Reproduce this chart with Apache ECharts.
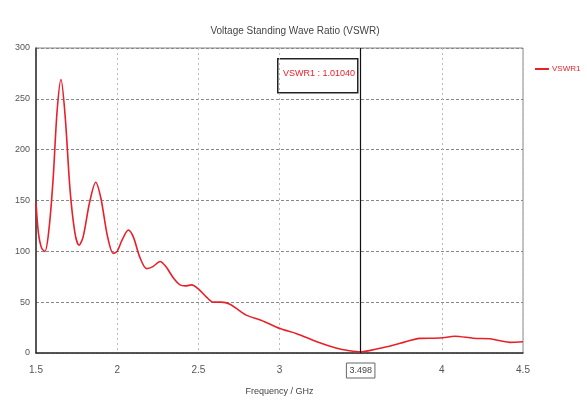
<!DOCTYPE html>
<html><head><meta charset="utf-8">
<script src="https://cdn.jsdelivr.net/npm/echarts@6/dist/echarts.min.js"></script>
<style>html,body{margin:0;padding:0;background:#fff}#c{width:587px;height:407px}</style>
</head><body><div id="c"></div>
<script>
const freq = [1.5, 1.515, 1.535, 1.555, 1.58, 1.605, 1.63, 1.654, 1.68, 1.71, 1.74, 1.765, 1.79, 1.83, 1.868, 1.9, 1.94, 1.976, 2.0, 2.03, 2.069, 2.1, 2.14, 2.182, 2.22, 2.264, 2.3, 2.35, 2.387, 2.42, 2.459, 2.5, 2.55, 2.592, 2.64, 2.695, 2.75, 2.798, 2.89, 3.003, 3.106, 3.23, 3.353, 3.43, 3.498, 3.56, 3.62, 3.743, 3.866, 3.99, 4.08, 4.194, 4.297, 4.36, 4.42, 4.5];
const vswr = [148, 118, 103, 100, 122, 170, 238, 269, 232, 160, 118, 106, 114, 148, 168, 152, 115, 98, 100, 111, 121, 114, 94, 83, 85, 90, 85, 73, 67, 66, 67, 63, 55, 50, 50, 48, 42, 37, 32, 24, 19, 11, 4.6, 2.2, 1.0, 2.6, 4.6, 9.5, 14.4, 14.7, 16.5, 14.5, 14, 12, 10.5, 11];
const xTicks = [1.5, 2, 2.5, 3, 4, 4.5];
const markerFreq = 3.498;
const markerText = 'VSWR1 : 1.01040';

const chart = echarts.init(document.getElementById('c'));
chart.setOption({
  animation: false,
  title: { text: 'Voltage Standing Wave Ratio (VSWR)', left: 290, textAlign: 'center', top: 21,
    textStyle: { fontSize: 10, fontWeight: 'normal', color: '#444', fontFamily: 'Liberation Sans' } },
  legend: { data: ['VSWR1'], left: 530, top: 60, itemWidth: 14, itemHeight: 2, itemGap: 4,
    icon: 'rect', textStyle: { color: '#e8202a', fontSize: 8, padding: [0, 0, 0, -2], fontFamily: 'Liberation Sans' } },
  grid: { left: 36, right: 64, top: 48, bottom: 54, show: true, borderColor: '#888', borderWidth: 1 },
  xAxis: { type: 'value', min: 1.5, max: 4.5, interval: 0.5,
    name: 'Frequency / GHz', nameLocation: 'middle', nameGap: 34,
    nameTextStyle: { fontSize: 9, color: '#444', fontFamily: 'Liberation Sans' },
    axisLine: { lineStyle: { color: '#333', width: 1.5 } },
    axisTick: { show: false },
    axisLabel: { fontSize: 10, color: '#555', margin: 12, fontFamily: 'Liberation Sans',
      formatter: v => (xTicks.indexOf(Math.round(v*10)/10) >= 0 && Math.abs(v - 3.5) > 0.01) ? String(v) : '' },
    splitLine: { show: true, lineStyle: { color: '#bbb', type: [2, 3] } } },
  yAxis: { type: 'value', min: 0, max: 300, interval: 50,
    axisLine: { show: true, lineStyle: { color: '#333', width: 1.5 } },
    axisTick: { show: false },
    axisLabel: { fontSize: 9, color: '#555', margin: 6, fontFamily: 'Liberation Sans' },
    splitLine: { show: true, lineStyle: { color: '#888', type: [3, 2] } } },
  series: [{
    name: 'VSWR1', type: 'line', smooth: 0.3, symbol: 'none',
    data: freq.map((f, i) => [f, vswr[i]]),
    lineStyle: { color: '#e8202a', width: 1.6 }, itemStyle: { color: '#e8202a' },
    markLine: { symbol: 'none', silent: true,
      lineStyle: { color: '#111', type: 'solid', width: 1.2 },
      label: { position: 'start', formatter: String(markerFreq), fontSize: 9, color: '#444',
        borderColor: '#666', borderWidth: 1, padding: [3, 3], distance: 10, fontFamily: 'Liberation Sans' },
      data: [{ xAxis: markerFreq }] }
  }],
  graphic: [{ type: 'rect', left: 277, top: 58, shape: { width: 80, height: 34 },
      style: { fill: '#fff', stroke: '#222', lineWidth: 1.5 } },
    { type: 'text', left: 283, top: 69,
      style: { text: markerText, fill: '#e8202a', fontSize: 9, fontFamily: 'Liberation Sans' } }]
});
</script></body></html>
